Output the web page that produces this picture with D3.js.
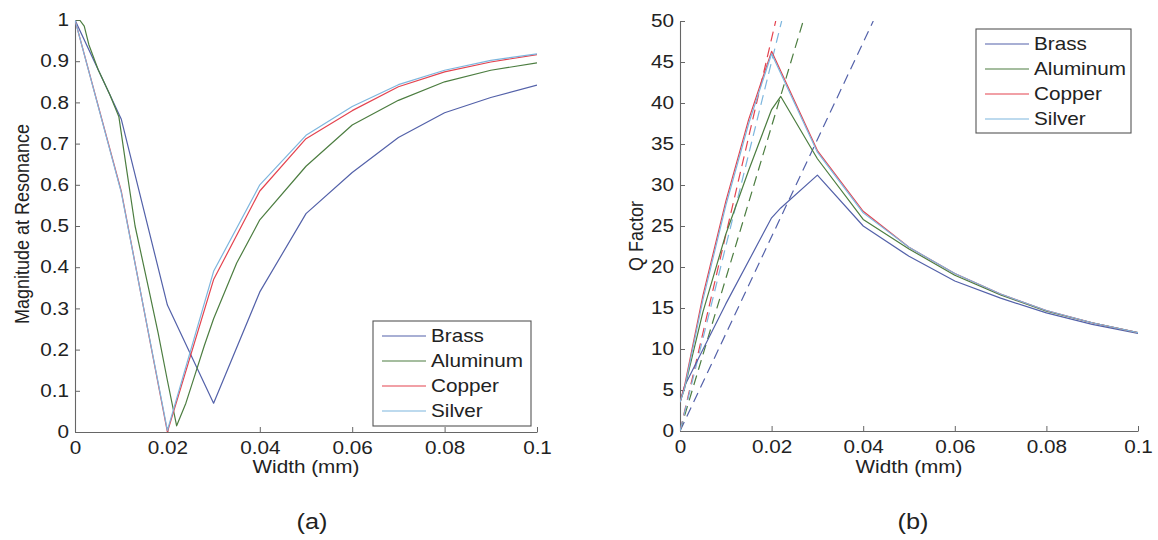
<!DOCTYPE html>
<html>
<head>
<meta charset="utf-8">
<script src="https://cdn.jsdelivr.net/npm/d3@7"></script>
<style>
  html, body { margin: 0; padding: 0; background: #fff; }
  svg { display: block; }
  text { font-family: "Liberation Sans", Arial, sans-serif; fill: #222; }
</style>
</head>
<body>
<svg id="fig" width="1158" height="540"></svg>
<script>
// Series names and colours
const materials = ["Brass", "Aluminum", "Copper", "Silver"];
const colors = ["#5361a9", "#4c7d40", "#e4434f", "#7db6de"];

// Tick values
const widthTicks = [0, 0.02, 0.04, 0.06, 0.08, 0.1];
const magTicks = [0, 0.1, 0.2, 0.3, 0.4, 0.5, 0.6, 0.7, 0.8, 0.9, 1];
const qTicks = [0, 5, 10, 15, 20, 25, 30, 35, 40, 45, 50];

// (a) magnitude at resonance vs width: [width (mm), magnitude]
const magBrass = [[0, 1], [0.01, 0.76], [0.02, 0.308], [0.03, 0.07], [0.04, 0.34], [0.05, 0.53],
  [0.06, 0.63], [0.07, 0.715], [0.08, 0.775], [0.09, 0.812], [0.1, 0.842]];
const magAluminum = [[0, 1], [0.001, 1.0], [0.002, 0.985], [0.003, 0.94], [0.005, 0.88], [0.0075, 0.82],
  [0.0095, 0.765], [0.011, 0.65], [0.013, 0.5], [0.016, 0.345], [0.018, 0.24], [0.02, 0.125],
  [0.022, 0.015], [0.024, 0.07], [0.026, 0.14], [0.028, 0.21], [0.03, 0.275], [0.035, 0.41],
  [0.04, 0.515], [0.05, 0.645], [0.06, 0.745], [0.07, 0.805], [0.08, 0.85], [0.09, 0.878], [0.1, 0.896]];
const magCopper = [[0, 1], [0.01, 0.585], [0.02, 0.0], [0.03, 0.37], [0.04, 0.585], [0.05, 0.712],
  [0.06, 0.78], [0.07, 0.838], [0.08, 0.874], [0.09, 0.898], [0.1, 0.916]];
const magSilver = [[0, 1], [0.01, 0.582], [0.02, 0.004], [0.03, 0.39], [0.04, 0.6], [0.05, 0.72],
  [0.06, 0.79], [0.07, 0.843], [0.08, 0.878], [0.09, 0.902], [0.1, 0.918]];

// (b) Q factor vs width: [width (mm), Q]
const qBrass = [[0, 3.5], [0.001, 5.5], [0.01, 15.5], [0.02, 26], [0.022, 27.2], [0.03, 31.2],
  [0.04, 25], [0.05, 21.3], [0.06, 18.3], [0.07, 16.2], [0.08, 14.4], [0.09, 13.0], [0.1, 11.9]];
const qAluminum = [[0, 3.5], [0.001, 5.2], [0.005, 14.5], [0.01, 24], [0.015, 31.8], [0.02, 39.2],
  [0.022, 40.8], [0.03, 33.2], [0.04, 25.8], [0.05, 22.2], [0.06, 19.0], [0.07, 16.6], [0.08, 14.6],
  [0.09, 13.2], [0.1, 12.0]];
const qCopper = [[0, 3.5], [0.001, 5.5], [0.005, 16.5], [0.01, 28], [0.015, 38], [0.02, 46.3],
  [0.03, 34.2], [0.04, 26.8], [0.05, 22.4], [0.06, 19.2], [0.07, 16.7], [0.08, 14.7], [0.09, 13.2], [0.1, 12.0]];
const qSilver = [[0, 3.5], [0.001, 5.2], [0.005, 16], [0.01, 27.5], [0.015, 37.5], [0.02, 46],
  [0.03, 34], [0.04, 26.6], [0.05, 22.4], [0.06, 19.2], [0.07, 16.7], [0.08, 14.7], [0.09, 13.2], [0.1, 12.0]];

// (b) dashed linear trends from the origin: [width (mm), Q]
const trendBrass = [[0, 0], [0.0422, 50]];
const trendAluminum = [[0, 0], [0.0269, 50]];
const trendCopper = [[0, 0], [0.0209, 50]];
const trendSilver = [[0, 0], [0.0222, 50]];

const magSeries = [magBrass, magAluminum, magCopper, magSilver];
const qSeries = [qBrass, qAluminum, qCopper, qSilver];
const trendSeries = [trendBrass, trendAluminum, trendCopper, trendSilver];

const svg = d3.select("#fig");
const SX = 1.15; // horizontal stretch of glyphs

// move a text's x/y into a transform and widen the glyphs
function stretch(sel) {
  sel.each(function () {
    const t = d3.select(this);
    const x = +t.attr("x") || 0;
    const y = +t.attr("y") || 0;
    t.attr("x", 0).attr("y", 0).attr("transform", `translate(${x},${y}) scale(${SX},1)`);
  });
}

function panel(opts) {
  const { left, right, top, bottom, yDomain, yTicks, yFmt, ylabel, ylabelY, series, dashed, legend, tag } = opts;
  const x = d3.scaleLinear().domain([0, 0.1]).range([left, right]);
  const y = d3.scaleLinear().domain(yDomain).range([bottom, top]);
  const g = svg.append("g");

  // axes: left and bottom only, ticks pointing inward
  const xa = g.append("g").attr("transform", `translate(0,${bottom})`)
    .call(d3.axisBottom(x).tickValues(widthTicks).tickFormat(d3.format("")).tickSizeInner(-5).tickSizeOuter(0).tickPadding(9));
  const ya = g.append("g").attr("transform", `translate(${left},0)`)
    .call(d3.axisLeft(y).tickValues(yTicks).tickFormat(yFmt).tickSizeInner(-5).tickSizeOuter(0).tickPadding(6));
  [xa, ya].forEach(a => {
    a.select(".domain").attr("stroke", "#666").attr("stroke-width", 1.1);
    a.selectAll(".tick line").attr("stroke", "#666");
    a.selectAll(".tick text").attr("font-size", 18).attr("fill", "#222")
      .attr("font-family", "Liberation Sans, Arial, sans-serif").call(stretch);
  });

  const line = d3.line().x(d => x(d[0])).y(d => y(d[1]));
  const clipId = "clip-" + tag;
  g.append("clipPath").attr("id", clipId).append("rect")
    .attr("x", left).attr("y", top).attr("width", right - left).attr("height", bottom - top);
  const plot = g.append("g").attr("clip-path", `url(#${clipId})`);

  if (dashed) {
    dashed.forEach((s, i) => {
      plot.append("path").attr("d", line(s)).attr("fill", "none")
        .attr("stroke", colors[i]).attr("stroke-width", 1.2).attr("stroke-dasharray", "10,6");
    });
  }
  series.forEach((s, i) => {
    plot.append("path").attr("d", line(s)).attr("fill", "none")
      .attr("stroke", colors[i]).attr("stroke-width", 1.2).attr("stroke-linejoin", "round");
  });

  // axis labels
  g.append("text").attr("x", (left + right) / 2).attr("y", 473).attr("text-anchor", "middle")
    .attr("font-size", 18).text("Width (mm)").call(stretch);
  g.append("text").attr("text-anchor", "middle").attr("font-size", 18)
    .attr("transform", `translate(${ylabel.x},${ylabelY}) scale(${SX},1) rotate(-90)`)
    .attr("dy", "0.35em").text(ylabel.text);

  // panel tag
  g.append("text").attr("x", opts.tagX).attr("y", 529).attr("text-anchor", "middle")
    .attr("font-family", "Liberation Serif, Times New Roman, serif").attr("font-size", 22)
    .text(`(${tag})`).call(stretch);

  // legend
  const lg = g.append("g");
  lg.append("rect").attr("x", legend.x).attr("y", legend.y).attr("width", legend.w).attr("height", legend.h)
    .attr("fill", "#fff").attr("stroke", "#555").attr("stroke-width", 1.1);
  materials.forEach((m, i) => {
    const ly = legend.y + 15 + i * 25;
    lg.append("line").attr("x1", legend.x + 9).attr("x2", legend.x + 53).attr("y1", ly).attr("y2", ly)
      .attr("stroke", colors[i]).attr("stroke-width", 1.2);
    lg.append("text").attr("x", legend.x + 58).attr("y", ly).attr("dy", "0.35em")
      .attr("font-size", 18).text(m).call(stretch);
  });
}

panel({
  tag: "a", tagX: 312,
  left: 75, right: 537, top: 20, bottom: 432,
  yDomain: [0, 1], yTicks: magTicks, yFmt: d3.format(""),
  ylabel: { x: 22, text: "Magnitude at Resonance" }, ylabelY: 224,
  series: magSeries, dashed: null,
  legend: { x: 373, y: 321, w: 158, h: 105 }
});

panel({
  tag: "b", tagX: 913,
  left: 680, right: 1138, top: 21, bottom: 431,
  yDomain: [0, 50], yTicks: qTicks, yFmt: d3.format("d"),
  ylabel: { x: 636, text: "Q Factor" }, ylabelY: 236,
  series: qSeries, dashed: trendSeries,
  legend: { x: 976, y: 29, w: 155, h: 104 }
});
</script>
</body>
</html>
